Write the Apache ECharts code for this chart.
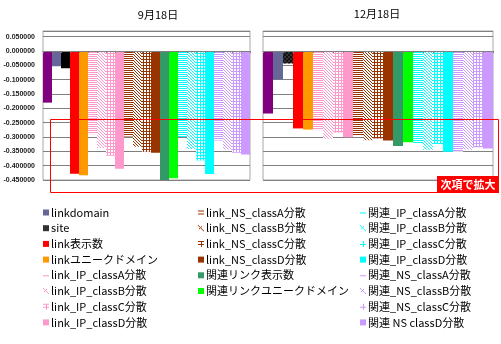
<!DOCTYPE html>
<html>
<head>
<meta charset="utf-8">
<script src="https://cdn.jsdelivr.net/npm/echarts@6/dist/echarts.min.js"></script>
<style>
  html, body { margin: 0; padding: 0; background: #ffffff; }
  #chart { width: 501px; height: 344px; }
</style>
</head>
<body>
<div id="chart"></div>
<script>
// Indicator names (one bar each, left to right)
const names = [
  'スコア',
  'linkdomain', 'site', 'link表示数', 'linkユニークドメイン',
  'link_IP_classA分散', 'link_IP_classB分散', 'link_IP_classC分散', 'link_IP_classD分散',
  'link_NS_classA分散', 'link_NS_classB分散', 'link_NS_classC分散', 'link_NS_classD分散',
  '関連リンク表示数', '関連リンクユニークドメイン',
  '関連_IP_classA分散', '関連_IP_classB分散', '関連_IP_classC分散', '関連_IP_classD分散',
  '関連_NS_classA分散', '関連_NS_classB分散', '関連_NS_classC分散', '関連 NS classD分散'
];

// Values on 9月18日
const sep18 = [
  -0.180, -0.053, -0.060, -0.428, -0.433,
  -0.290, -0.338, -0.365, -0.411,
  -0.298, -0.334, -0.351, -0.355,
  -0.450, -0.444,
  -0.300, -0.342, -0.382, -0.429,
  -0.312, -0.344, -0.355, -0.361
];

// Values on 12月18日
const dec18 = [
  -0.218, -0.099, -0.043, -0.270, -0.274,
  -0.276, -0.306, -0.285, -0.301,
  -0.294, -0.311, -0.305, -0.312,
  -0.331, -0.318,
  -0.322, -0.344, -0.324, -0.351,
  -0.351, -0.344, -0.336, -0.340
];

const panelTitles = ['9月18日', '12月18日'];
const noteText = '次項で拡大';

// Value axis range shared by both panels
const yMin = -0.45, yMax = 0.07, yStep = 0.05;

// Legend columns (indices into names)
const legendCols = [
  [1, 2, 3, 4, 5, 6, 7, 8],
  [9, 10, 11, 12, 13, 14],
  [15, 16, 17, 18, 19, 20, 21, 22]
];

// ---- styling ----
const PINK = '#FF99CC', BROWN = '#993300', CYAN = '#00FFFF', LAV = '#CC99FF';
// [base colour, fill kind]
const looks = [
  ['#800080', 'solid'], ['#666699', 'solid'], ['#000000', 'site'], ['#FF0000', 'solid'], ['#FF9900', 'solid'],
  [PINK, 'A'], [PINK, 'B'], [PINK, 'C'], [PINK, 'solid'],
  [BROWN, 'A'], [BROWN, 'B'], [BROWN, 'C'], [BROWN, 'solid'],
  ['#339966', 'solid'], ['#00FF00', 'solid'],
  [CYAN, 'A'], [CYAN, 'B'], [CYAN, 'C'], [CYAN, 'solid'],
  [LAV, 'A'], [LAV, 'B'], [LAV, 'C'], [LAV, 'solid']
];

function barStyle(i, panel) {
  const [c, kind] = looks[i];
  if (kind === 'solid') return { color: c };
  if (kind === 'site') {
    if (panel === 0) return { color: '#000000' };
    return { color: '#333333', decal: { symbol: 'rect', symbolSize: 1, color: '#111111',
      dashArrayX: [[2, 2], [0, 2, 2, 0]], dashArrayY: [2, 0] } };
  }
  // narrow horizontal stripes
  if (kind === 'A') return { color: '#ffffff', decal: { symbol: 'rect', symbolSize: 1, color: c,
      dashArrayX: [1, 0], dashArrayY: [1, 1] } };
  // dotted downward diagonal
  if (kind === 'B') return { color: '#ffffff', decal: { symbol: 'rect', symbolSize: 1, color: c,
      dashArrayX: [[1, 2], [0, 1, 1, 1], [0, 2, 1, 0]], dashArrayY: [1, 0] } };
  // grid of thin lines
  return { color: c, decal: { symbol: 'rect', symbolSize: 1, color: '#ffffff',
      dashArrayX: [2, 1], dashArrayY: [2, 1] } };
}

// small legend glyphs on a 6x6 box (corner specks pin the box size)
const CORNERS = 'M0,0h0.01v0.01h-0.01z M5.99,5.99h0.01v0.01h-0.01z ';
const ICONS = {
  dash: 'path://' + CORNERS + 'M0,3h6v1h-6z',
  dbl: 'path://' + CORNERS + 'M0,1h6v1h-6z M0,4h6v1h-6z',
  diag: 'path://' + CORNERS + 'M0,0h1v1h-1z M1,1h1v1h-1z M2,2h1v1h-1z M3,3h1v1h-1z M4,4h1v1h-1z M5,5h1v1h-1z M3,1h1v1h-1z M1,3h1v1h-1z',
  fork: 'path://' + CORNERS + 'M0,0h6v1h-6z M0,3h6v1h-6z M3,0h1v6h-1z',
  plus: 'path://' + CORNERS + 'M0,3h6v1h-6z M3,0h1v6h-1z'
};

function legendItem(i) {
  const [c, kind] = looks[i];
  const item = { name: names[i] };
  if (kind === 'solid') { item.icon = 'rect'; item.itemStyle = { color: c, decal: 'none' }; }
  else if (kind === 'site') { item.icon = 'rect'; item.itemStyle = { color: '#333333', decal: 'none' }; }
  else {
    let icon;
    if (kind === 'A') icon = (c === BROWN) ? ICONS.dbl : ICONS.dash;
    else if (kind === 'B') icon = ICONS.diag;
    else icon = (i >= 15) ? ICONS.plus : ICONS.fork;
    item.icon = icon;
    item.itemStyle = { color: c, decal: 'none' };
  }
  return item;
}

const FONT = '"Noto Sans CJK JP", "Noto Sans", sans-serif';
// 23 bars per panel: 9px each on the left, 10px each on the right
const grids = [
  { left: 43, top: 31, width: 207, height: 149 },
  { left: 263, top: 31, width: 230, height: 149 }
];

const series = [];
[sep18, dec18].forEach((vals, g) => {
  vals.forEach((v, i) => {
    series.push({
      type: 'bar', name: names[i], xAxisIndex: g, yAxisIndex: g,
      data: [[i, v]],
      barGap: '-100%', barCategoryGap: '0%',
      itemStyle: barStyle(i, g),
      emphasis: { disabled: true },
      silent: true
    });
  });
});

const chart = echarts.init(document.getElementById('chart'), null, { renderer: 'canvas' });
chart.setOption({
  animation: false,
  backgroundColor: '#ffffff',
  grid: grids.map(r => Object.assign({ show: true, borderColor: '#a8a8a8', borderWidth: 1, backgroundColor: 'transparent' }, r)),
  xAxis: [0, 1].map(g => ({
    type: 'category', gridIndex: g, data: names, z: 5,
    axisLine: { onZero: true, lineStyle: { color: '#808080', width: 1 } },
    axisTick: { show: true, length: 2, interval: 0, alignWithLabel: false, lineStyle: { color: '#808080' } },
    axisLabel: { show: false },
    splitLine: { show: false }
  })),
  yAxis: [0, 1].map(g => ({
    type: 'value', gridIndex: g, min: yMin, max: yMax, interval: yStep,
    axisLine: { show: false }, axisTick: { show: false },
    splitLine: { show: true, lineStyle: { color: '#808080', width: 1 } },
    axisLabel: g === 0 ? {
      show: true, showMaxLabel: false, margin: 8,
      fontSize: 7, fontWeight: 'bold', color: '#1a1a1a', fontFamily: '"Liberation Sans", Arial, sans-serif',
      formatter: v => (Math.abs(v) < 1e-9 ? 0 : v).toFixed(6)
    } : { show: false }
  })),
  legend: legendCols.map((col, k) => ({
    orient: 'vertical',
    left: [43, 198, 360][k], top: 207, padding: 0,
    itemWidth: 6, itemHeight: 6, itemGap: 4.7,
    selectedMode: false,
    textStyle: { fontSize: 11, color: '#000000', fontFamily: FONT, padding: [0, 0, 0, -3] },
    data: col.map(legendItem)
  })),
  series,
  graphic: [
    { type: 'text', x: 158, y: 15, z: 100, style: { text: panelTitles[0], fill: '#000', font: '11px ' + FONT, textAlign: 'center', textVerticalAlign: 'middle' } },
    { type: 'text', x: 377, y: 14, z: 100, style: { text: panelTitles[1], fill: '#000', font: '11px ' + FONT, textAlign: 'center', textVerticalAlign: 'middle' } },
    { type: 'rect', z: 100, shape: { x: 50.5, y: 119.5, width: 448, height: 73 }, style: { fill: null, stroke: '#FF0000', lineWidth: 1 } },
    { type: 'rect', z: 101, shape: { x: 437, y: 176, width: 62, height: 17 }, style: { fill: '#FF0000' } },
    { type: 'text', x: 468, y: 184.5, z: 102, style: { text: noteText, fill: '#ffffff', font: 'bold 11px ' + FONT, textAlign: 'center', textVerticalAlign: 'middle' } }
  ]
});
</script>
</body>
</html>
